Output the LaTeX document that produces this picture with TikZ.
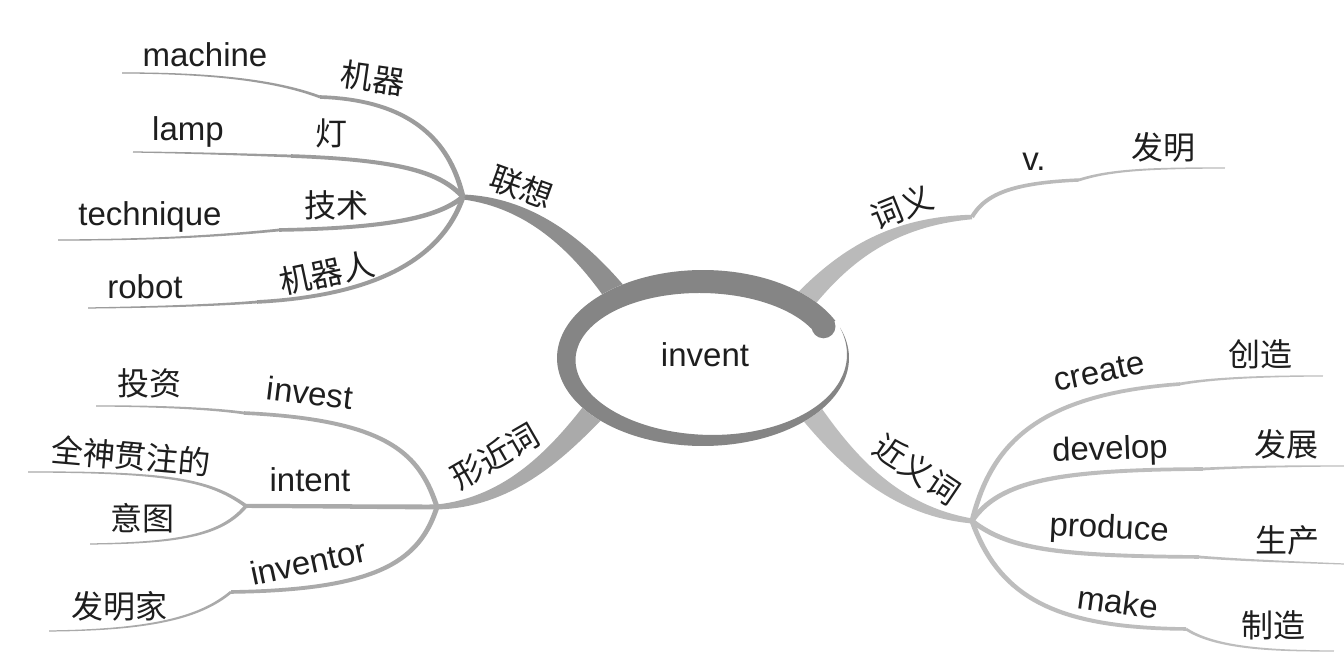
\documentclass[tikz,border=0pt]{standalone}
\usepackage{fontspec}
\setmainfont{Liberation Sans}
\newfontfamily\cjk{Noto Sans CJK SC}
\definecolor{txt}{HTML}{1E1E1E}
\definecolor{gA}{HTML}{8E8E8E}
\definecolor{gAs}{HTML}{9C9C9C}
\definecolor{gB}{HTML}{AAAAAA}
\definecolor{gC}{HTML}{BABABA}
\definecolor{gD}{HTML}{BDBDBD}
\definecolor{ringc}{HTML}{858585}
% cubic Bezier value and scaled derivative
\pgfmathdeclarefunction{bz}{5}{\begingroup\pgfmathparse{(1-#1)*(1-#1)*(1-#1)*#2+3*(1-#1)*(1-#1)*#1*#3+3*(1-#1)*#1*#1*#4+#1*#1*#1*#5}\pgfmathsmuggle\pgfmathresult\endgroup}
\pgfmathdeclarefunction{dbz}{5}{\begingroup\pgfmathparse{0.03*(1-#1)*(1-#1)*(#3-#2)+0.06*(1-#1)*#1*(#4-#3)+0.03*#1*#1*(#5-#4)}\pgfmathsmuggle\pgfmathresult\endgroup}
% tapered branch: colour, start width, end width, four points x,y
\newcommand\tb[7]{\def\tbc{#1}\def\wa{#2}\def\wb{#3}%
  \tbsa#4\tbend\tbsb#5\tbend\tbsc#6\tbend\tbsd#7\tbend\tbdraw}
\def\tbsa#1,#2\tbend{\def\xa{#1}\def\ya{#2}}
\def\tbsb#1,#2\tbend{\def\xb{#1}\def\yb{#2}}
\def\tbsc#1,#2\tbend{\def\xc{#1}\def\yc{#2}}
\def\tbsd#1,#2\tbend{\def\xd{#1}\def\yd{#2}}
\def\tbdraw{%
 \fill[\tbc] plot[domain=0:1,samples=36,variable=\t]
  ({bz(\t,\xa,\xb,\xc,\xd)-dbz(\t,\ya,\yb,\yc,\yd)/veclen(dbz(\t,\xa,\xb,\xc,\xd),dbz(\t,\ya,\yb,\yc,\yd))*(\wa+(\wb-\wa)*\t)/2},
   {bz(\t,\ya,\yb,\yc,\yd)+dbz(\t,\xa,\xb,\xc,\xd)/veclen(dbz(\t,\xa,\xb,\xc,\xd),dbz(\t,\ya,\yb,\yc,\yd))*(\wa+(\wb-\wa)*\t)/2})
  -- plot[domain=1:0,samples=36,variable=\t]
  ({bz(\t,\xa,\xb,\xc,\xd)+dbz(\t,\ya,\yb,\yc,\yd)/veclen(dbz(\t,\xa,\xb,\xc,\xd),dbz(\t,\ya,\yb,\yc,\yd))*(\wa+(\wb-\wa)*\t)/2},
   {bz(\t,\ya,\yb,\yc,\yd)-dbz(\t,\xa,\xb,\xc,\xd)/veclen(dbz(\t,\xa,\xb,\xc,\xd),dbz(\t,\ya,\yb,\yc,\yd))*(\wa+(\wb-\wa)*\t)/2})
  -- cycle;}
\begin{document}
\begin{tikzpicture}[x=1pt,y=-1pt,
  en/.style={font=\fontsize{33}{38}\selectfont, text=txt, inner sep=0pt},
  zh/.style={font=\cjk\fontsize{32}{38}\selectfont, text=txt, inner sep=0pt}]
\useasboundingbox (0,0) rectangle (1344,668);
\fill[white] (0,0) rectangle (1344,668);
% main branches
\tb{gA}{24}{5}{622,302}{585,252}{535,203}{463,197}
\tb{gB}{24}{5}{602,402}{565,445}{515,502}{437,507}
\tb{gC}{22}{4.5}{798,308}{838,262}{885,222}{972,217}
\tb{gD}{24}{5}{800,398}{842,455}{890,510}{972,521}
% left upper sub-branches
\tb{gAs}{5}{3.6}{463,197}{450,140}{410,100}{320,97}
\tb{gAs}{2.8}{1.2}{320,97}{280,82}{220,73}{122,73}
\tb{gAs}{5}{3.6}{463,197}{440,172}{400,160}{291,156}
\tb{gAs}{2.8}{1.2}{291,156}{257,155}{204,153}{133,152}
\tb{gAs}{5}{3.6}{463,197}{440,215}{400,228}{279,230}
\tb{gAs}{2.8}{1.2}{279,230}{220,236}{150,240}{58,240}
\tb{gAs}{5}{3.6}{463,197}{445,250}{390,295}{257,302}
\tb{gAs}{2.8}{1.2}{257,302}{219,305}{163,307}{88,308}
% left lower sub-branches
\tb{gB}{5}{3.6}{437,507}{420,455}{390,420}{244,413}
\tb{gB}{2.8}{1.2}{244,413}{208,408}{150,406}{96,406}
\tb{gB}{5}{4}{437,507}{400,507}{300,506}{246,506}
\tb{gB}{3.6}{1.2}{246,506}{210,480}{170,472}{28,472}
\tb{gB}{3.6}{1.2}{246,506}{222,535}{180,543}{90,544}
\tb{gB}{5}{3.6}{437,507}{420,560}{380,590}{231,592}
\tb{gB}{2.8}{1.2}{231,592}{200,618}{150,630}{49,631}
% right upper
\tb{gC}{4.2}{3.4}{972,217}{985,195}{1010,183}{1079,180}
\tb{gC}{2.8}{1.2}{1079,180}{1110,170}{1150,168}{1225,168}
% right lower
\tb{gD}{5}{3.6}{972,521}{990,450}{1030,395}{1180,384}
\tb{gD}{2.8}{1.2}{1180,384}{1207,379}{1255,376}{1323,376}
\tb{gD}{5}{3.6}{972,521}{1000,480}{1060,470}{1203,469}
\tb{gD}{2.8}{1.2}{1203,469}{1241,467}{1288,466}{1344,466}
\tb{gD}{5}{3.6}{972,521}{1010,550}{1060,556}{1199,557}
\tb{gD}{2.8}{1.2}{1199,557}{1239,560}{1288,562}{1344,564}
\tb{gD}{5}{3.6}{972,521}{1000,600}{1060,628}{1186,629}
\tb{gD}{2.8}{1.2}{1186,629}{1215,648}{1270,651}{1334,651}
% central ring
\fill[white] plot[domain=0:360, samples=120, variable=\t] ({703+146*cos(\t)},{358+88*sin(\t)}) -- cycle;
\fill[ringc] plot[domain=-20:335, samples=150, variable=\t] ({703+146*cos(\t)},{358+88*sin(\t)})
  -- plot[domain=335:-20, samples=150, variable=\t]
  ({703+(146-24*sin(0.25352*(\t+20)))*cos(\t)},{358+(88-24*sin(0.25352*(\t+20)))*sin(\t)}) -- cycle;
\fill[ringc] (823.5,326.3) circle[radius=12];
% labels
\node[en] (invent) at (705,355) {invent};
\node[zh, rotate=-20] (lx) at (522,187) {联想};
\node[en] (machine) at (205,55) {machine};
\node[zh, rotate=-8] (jq) at (373,78) {机器};
\node[en] (lamp) at (188,132) {lamp};
\node[zh] (deng) at (331,133) {灯};
\node[en] (technique) at (150,217) {technique};
\node[zh] (js) at (336,205) {技术};
\node[en] (robot) at (145,287) {robot};
\node[zh, rotate=12] (jqr) at (327,273) {机器人};
\node[zh, rotate=30] (xjc) at (495,456) {形近词};
\node[zh] (tz) at (149,383) {投资};
\node[en, rotate=-7] (invest) at (310,393) {invest};
\node[zh, rotate=-5] (qs) at (131,456) {全神贯注的};
\node[en] (intent) at (310,480) {intent};
\node[zh] (yt) at (142,518) {意图};
\node[en, rotate=12] (inventor) at (308,562) {inventor};
\node[zh] (fmj) at (119,606) {发明家};
\node[zh, rotate=22] (cy) at (902,207) {词义};
\node[en] (v) at (1034,162) {v.};
\node[zh] (fm) at (1163,147) {发明};
\node[zh, rotate=-34] (jyc) at (917,469) {近义词};
\node[en, rotate=12] (create) at (1099,372) {create};
\node[zh] (cz) at (1260,354) {创造};
\node[en, rotate=2] (develop) at (1110,451) {develop};
\node[zh] (fz) at (1286,444) {发展};
\node[en, rotate=-3] (produce) at (1109,530) {produce};
\node[zh] (sc) at (1287,540) {生产};
\node[en, rotate=-8] (make) at (1118,602) {make};
\node[zh] (zz) at (1273,625) {制造};
\end{tikzpicture}
\end{document}
